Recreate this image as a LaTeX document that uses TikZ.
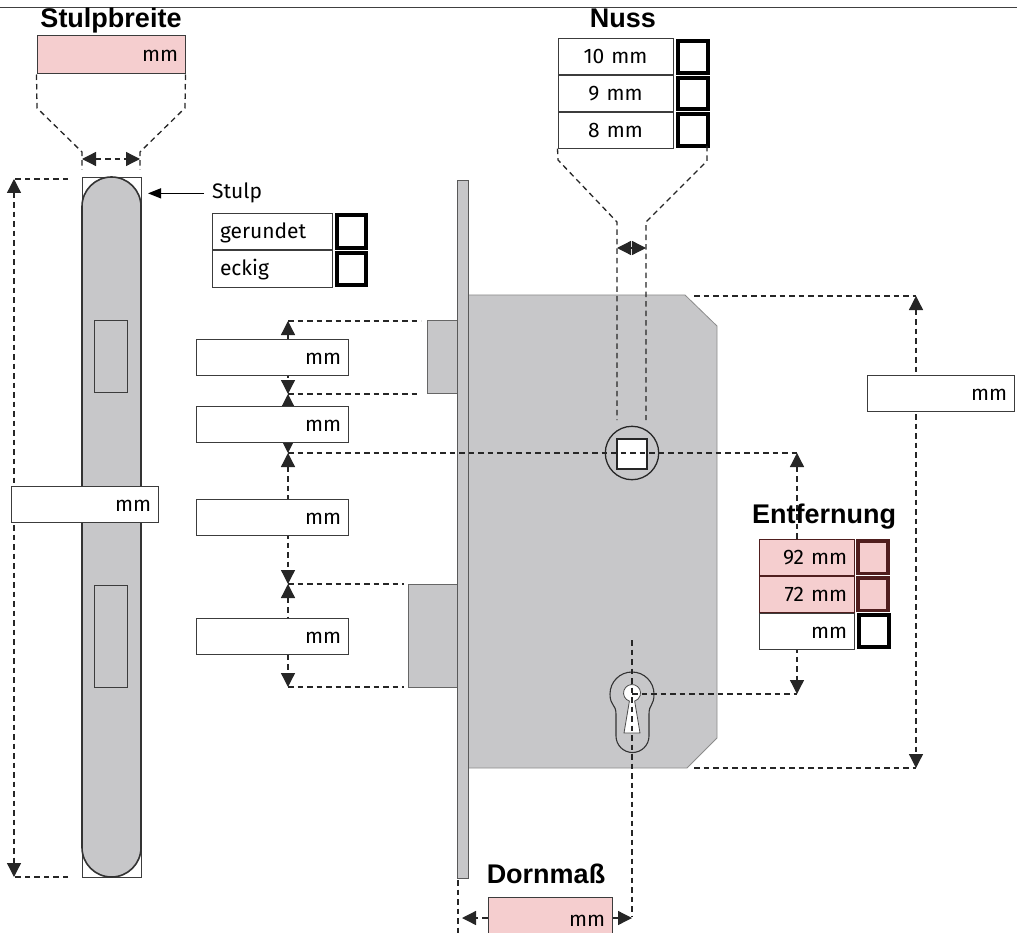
\documentclass[tikz,border=0pt]{standalone}
\usepackage{fontspec}
\setmainfont{Fira Sans}
\newfontfamily\headfont{Liberation Sans}
\usetikzlibrary{positioning,arrows.meta}
\definecolor{lockgray}{RGB}{199,199,201}
\definecolor{pinkfill}{RGB}{245,206,207}
\definecolor{edgegray}{RGB}{60,60,60}
\definecolor{boxred}{RGB}{80,30,30}
\newcommand\lblsize{\fontsize{21}{25}\selectfont}
\newcommand\hdsize{\headfont\bfseries\fontsize{27}{32}\selectfont}
\tikzset{
	dim/.style={draw=black!85,line width=1.3pt,dash pattern=on 5.5pt off 4pt},
	dimtip/.style={dim,-{Triangle[length=14pt,width=14pt]}},
	dimboth/.style={dim,{Triangle[length=14pt,width=14pt]}-{Triangle[length=14pt,width=14pt]}},
	field/.style={draw=edgegray,line width=1pt,fill=white,minimum height=36pt,
		text width=#1,align=right,inner xsep=7pt,inner ysep=0pt,
		text height=15pt,text depth=1pt,font=\lblsize},
	cell/.style={field=#1,align=center},
	leftcell/.style={field=#1,align=left,inner xsep=8pt},
	check/.style={draw=black,line width=4pt,fill=white,minimum width=30pt,
		minimum height=31.7pt,inner sep=0pt},
	heading/.style={font=\hdsize,anchor=base,inner sep=0pt},
	part/.style={fill=lockgray,draw=black!45,line width=0.8pt}
}
\begin{document}
\begin{tikzpicture}[x=1pt,y=-1pt]
	\useasboundingbox (0,0) rectangle (1017,933);
	\clip (0,0) rectangle (1017,933);
	\draw[line width=1pt,black!75] (0,8) -- (1017,8);
	\draw[draw=edgegray,line width=0.8pt] (82,177) rectangle (141,877);
	\draw[fill=lockgray,draw=black!80,line width=1.6pt] (82,206.5) arc (180:0:29.5pt) -- (141,847.5) arc (0:-180:29.5pt) -- cycle;
	\draw[fill=lockgray,draw=edgegray,line width=0.8pt] (94,320) rectangle (127,392);
	\draw[fill=lockgray,draw=edgegray,line width=0.8pt] (94,585) rectangle (127,687);
	\draw[part] (468,295) -- (685,295) -- (717,326) -- (717,738) -- (687,768) -- (468,768) -- cycle;
	\draw[part,draw=black!60] (427,320) rectangle (457,393);
	\draw[part,draw=black!60] (408,584) rectangle (457,687);
	\draw[part,draw=black!65] (457,180) rectangle (468,878);
	\draw[line width=1.3pt,black!85] (632,453) circle (26.7pt);
	\node[draw=black!85,line width=1.2pt,fill=white,minimum size=30pt,inner sep=0pt] (nut) at (632,454) {};
	\draw[fill=lockgray,draw=black!80,line width=1.1pt] (610,694) arc (180:0:22pt) .. controls (654,706) and (649,704) .. (649,714) -- (649,736) arc (0:-180:16.5pt) -- (616,714) .. controls (616,704) and (610,706) .. (610,694) -- cycle;
	\draw[fill=white,draw=black!70,line width=0.8pt] (629.4,701.1) arc (252:-72:8.5pt) -- (640,733) -- (624,733) -- cycle;
	\coordinate (h1) at (14,179);
	\coordinate (h2) at (14,877);
	\draw[dim] (68,179) -- (h1);
	\draw[dim] (68,877) -- (h2);
	\draw[dimboth] (h1) -- (h2);
	\coordinate (a1) at (288,321);
	\coordinate (a2) at (288,394);
	\coordinate (a3) at (288,453);
	\coordinate (a4) at (288,584);
	\coordinate (a5) at (288,687);
	\coordinate (e1) at (797,453);
	\coordinate (e2) at (797,694);
	\coordinate (key) at (632,694);
	\draw[dim] (a1) -- (421,321);
	\draw[dim] (a2) -- (419,394);
	\draw[dim] (a3) -- (e1);
	\draw[dim] (a4) -- (404,584);
	\draw[dim] (a5) -- (404,687);
	\draw[dimboth] (a1) -- (a2);
	\draw[dimboth] (a2) -- (a3);
	\draw[dimboth] (a3) -- (a4);
	\draw[dimboth] (a4) -- (a5);
	\draw[dim] (key) -- (e2);
	\draw[dimboth] (e1) -- (e2);
	\coordinate (r1) at (916,296);
	\coordinate (r2) at (916,768);
	\draw[dim] (694,296) -- (r1);
	\draw[dim] (694,768) -- (r2);
	\draw[dimboth] (r1) -- (r2);
	\node[field=134pt,fill=pinkfill,minimum height=38pt] (sb) at (111,55) {mm};
	\draw[dim] (sb.south west) -- (37,108) -- (82,152) -- (82,170);
	\draw[dim] (sb.south east) -- (185,108) -- (140,152) -- (140,170);
	\draw[dimboth] (82,159) -- (140,159);
	\node[cell=101pt,minimum height=35.7pt] (n10) at (615.5,56.8) {10 mm};
	\node[cell=101pt,minimum height=35.7pt,below=0pt of n10] (n9) {9 mm};
	\node[cell=101pt,minimum height=35.7pt,below=0pt of n9] (n8) {8 mm};
	\node[check,right=2pt of n10] (c10) {};
	\node[check,right=2pt of n9] (c9) {};
	\node[check,right=2pt of n8] (c8) {};
	\draw[dim] (n8.south west) -- (558,160) -- (617,222) -- (617,420);
	\draw[dim] (707,146) -- (707,161) -- (646,222) -- (646,420);
	\draw[dimboth] (617,248) -- (646,248);
	\draw[dim] (632,640) -- (632,916);
	\draw[dim] (458,880) -- (458,933);
	\node[field=110pt,fill=pinkfill,minimum height=44pt] (dm) at (550,919) {mm};
	\coordinate (dmL) at (462,918);
	\coordinate (dmR) at (632,918);
	\draw[dimtip] (dm.west |- dmL) -- (dmL);
	\draw[dimtip] (dm.east |- dmR) -- (dmR);
	\node[field=133pt] (stulpw) at (84.5,504) {mm};
	\node[field=138pt] (d1) at (272,357) {mm};
	\node[field=138pt] (d2) at (272,424) {mm};
	\node[field=138pt] (d3) at (272,517) {mm};
	\node[field=138pt] (d4) at (272,636) {mm};
	\node[field=133pt] (hoehe) at (940.5,393) {mm};
	\node[leftcell=104pt,minimum height=36.5pt] (rund) at (272,231.5) {gerundet};
	\node[leftcell=104pt,minimum height=36.5pt,below=0pt of rund] (eckig) {eckig};
	\node[check,minimum width=29pt,minimum height=32.5pt,right=2pt of rund] (crund) {};
	\node[check,minimum width=29pt,minimum height=32.5pt,right=2pt of eckig] (ceckig) {};
	\node[font=\lblsize,anchor=base west,inner xsep=8pt,inner ysep=0pt] (stulp) at (204,199) {Stulp};
	\coordinate (plateedge) at (148,191);
	\draw[line width=1.2pt,-{Triangle[length=13pt,width=10pt]}] (stulp.west) -- (stulp.west -| plateedge);
	\node[field=81pt,fill=pinkfill,draw=boxred] (e92) at (806.5,557) {92 mm};
	\node[field=81pt,fill=pinkfill,draw=boxred,below=0pt of e92] (e72) {72 mm};
	\node[field=81pt,below=0pt of e72] (eany) {mm};
	\node[check,line width=3.5pt,minimum height=32.5pt,fill=pinkfill,draw=boxred,right=1.75pt of e92] (c92) {};
	\node[check,line width=3.5pt,minimum height=32.5pt,fill=pinkfill,draw=boxred,right=1.75pt of e72] (c72) {};
	\node[check,minimum height=32pt,right=2pt of eany] (cany) {};
	\node[heading] (hsb) at (111,28) {Stulpbreite};
	\node[heading] (hnuss) at (623,28) {Nuss};
	\node[heading] (hent) at (824,523) {Entfernung};
	\node[heading] (hdorn) at (546,883) {Dornmaß};
\end{tikzpicture}
\end{document}
